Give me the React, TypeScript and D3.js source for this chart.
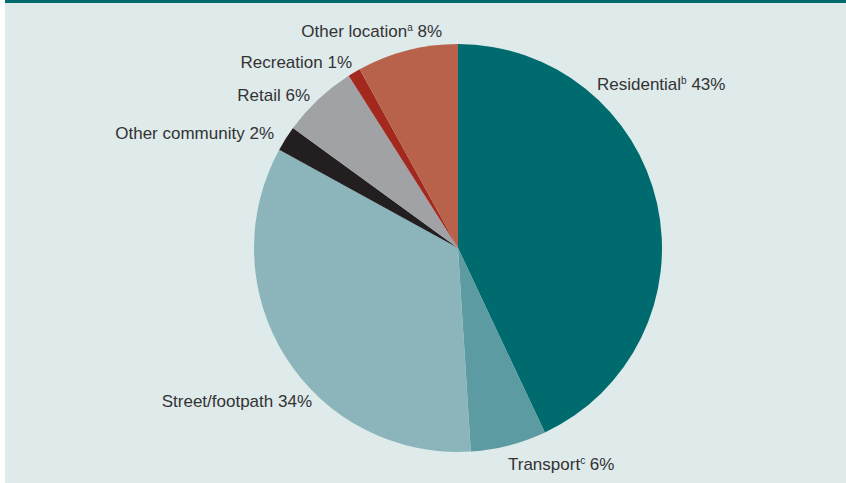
import React from "react";
import * as d3 from "d3";

const categories = ["Residential", "Transport", "Street/footpath", "Other community", "Retail", "Recreation", "Other location"];
const values = [43, 6, 34, 2, 6, 1, 8];
const footnotes = ["b", "c", "", "", "", "", "a"];
const colors = ["#006b6e", "#5b9ba1", "#8bb5bb", "#231f20", "#a0a2a5", "#a3281e", "#b8624c"];

// label layout (offsets from pie centre, px) – not data
const labelLayout = [
  { dx: 139, dy: -158, anchor: "start" },
  { dx: 50, dy: 222, anchor: "start" },
  { dx: -146, dy: 159, anchor: "end" },
  { dx: -184, dy: -109, anchor: "end" },
  { dx: -148, dy: -147, anchor: "end" },
  { dx: -106, dy: -180, anchor: "end" },
  { dx: -16, dy: -211, anchor: "end" },
];

const W = 846;
const H = 483;
const cx = 458;
const cy = 248;
const R = 204;

export default function App() {
  const data = categories.map((c, i) => ({ name: c, value: values[i], i }));
  const pie = d3.pie<any>().value((d) => d.value).sort(null);
  const arcs = pie(data);
  const arc = d3.arc<any>().innerRadius(0).outerRadius(R);
  return (
    <svg width={W} height={H} style={{ position: "absolute", left: 0, top: 0 }}>
      <rect x={0} y={0} width={W} height={H} fill="#ffffff" />
      <rect x={5} y={0} width={W - 5} height={H} fill="#dfeaeb" />
      <rect x={5} y={0} width={W - 5} height={3} fill="#006b6f" />
      <g transform={`translate(${cx},${cy})`}>
        {arcs.map((a, i) => (
          <path key={i} d={arc(a) as string} fill={colors[i]} />
        ))}
        {arcs.map((a, i) => {
          const L = labelLayout[i];
          return (
            <text
              key={"t" + i}
              x={L.dx}
              y={L.dy}
              textAnchor={L.anchor as any}
              fontFamily="'Liberation Sans', Arial, sans-serif"
              fontSize={17}
              fill="#333333"
            >
              <tspan>{categories[i]}</tspan>
              {footnotes[i] ? (
                <tspan fontSize={10} dy={-6}>{footnotes[i]}</tspan>
              ) : null}
              <tspan dy={footnotes[i] ? 6 : 0}>{" " + values[i] + "%"}</tspan>
            </text>
          );
        })}
      </g>
    </svg>
  );
}
